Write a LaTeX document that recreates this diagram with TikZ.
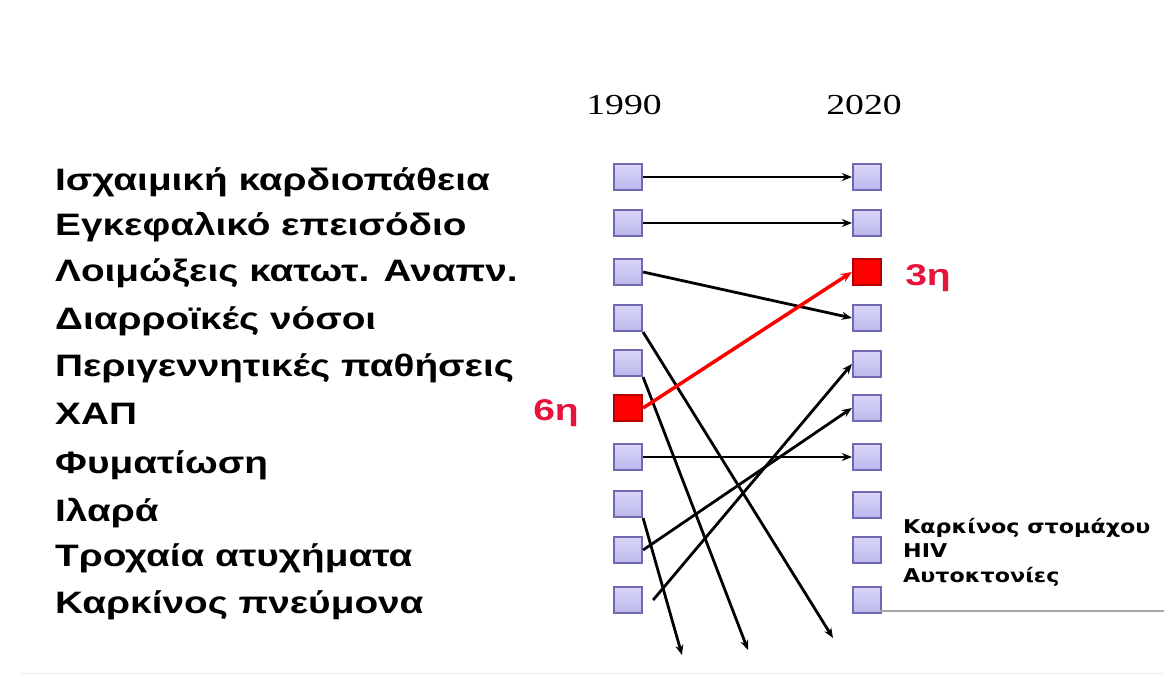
\documentclass[tikz,border=0pt]{standalone}
\usepackage{graphicx}
\usepackage{fontspec}
\setmainfont{Liberation Serif}
\newfontfamily\lblfont{Liberation Sans}
\newfontfamily\smfont{DejaVu Sans}
\usetikzlibrary{arrows.meta}
\definecolor{boxtop}{RGB}{218,214,248}
\definecolor{boxbot}{RGB}{186,184,236}
\definecolor{boxline}{RGB}{112,104,176}
\definecolor{redlbl}{RGB}{230,20,60}
\newcommand{\wx}[2]{\scalebox{#1}[1]{#2}}
\tikzset{
  cbox/.style={draw=boxline, line width=2.2pt, top color=boxtop, bottom color=boxbot, minimum width=28pt, minimum height=26pt, inner sep=0pt},
  rbox/.style={draw={rgb,255:red,180;green,0;blue,0}, line width=2.2pt, fill=red, minimum width=28pt, minimum height=26pt, inner sep=0pt},
  lbl/.style={anchor=base west, inner sep=0pt, font=\lblfont\bfseries\fontsize{31}{34}\selectfont},
  sml/.style={anchor=base west, inner sep=0pt, font=\smfont\bfseries\fontsize{19}{22}\selectfont},
  yr/.style={inner sep=0pt, font=\fontsize{29}{32}\selectfont},
  redl/.style={inner sep=0pt, text=redlbl, font=\lblfont\bfseries\fontsize{30}{32}\selectfont},
  conn/.style={line width=2.8pt, -{Stealth[length=10pt,width=8pt]}},
}
\begin{document}
\begin{tikzpicture}[x=1pt,y=-1pt]
\useasboundingbox (0,0) rectangle (1164,679);
\fill[white] (0,0) rectangle (1164,679);
% years
\node[yr] (y1) at (624,105) {\wx{1.3}{1990}};
\node[yr] (y2) at (864,105) {\wx{1.3}{2020}};
% left labels
\node[lbl] (t1) at (55,191) {\wx{1.25}{Ισχαιμική καρδιοπάθεια}};
\node[lbl] (t2) at (55,236) {\wx{1.25}{Εγκεφαλικό επεισόδιο}};
\node[lbl] (t3) at (55,281) {\wx{1.25}{Λοιμώξεις κατωτ. Αναπν.}};
\node[lbl] (t4) at (55,329) {\wx{1.25}{Διαρροϊκές νόσοι}};
\node[lbl] (t5) at (55,376) {\wx{1.25}{Περιγεννητικές παθήσεις}};
\node[lbl] (t6) at (55,424) {\wx{1.25}{ΧΑΠ}};
\node[lbl] (t7) at (55,473) {\wx{1.25}{Φυματίωση}};
\node[lbl] (t8) at (55,521) {\wx{1.25}{Ιλαρά}};
\node[lbl] (t9) at (55,566) {\wx{1.25}{Τροχαία ατυχήματα}};
\node[lbl] (t10) at (55,613) {\wx{1.25}{Καρκίνος πνεύμονα}};
% left boxes
\node[cbox] (L1) at (628,177) {};
\node[cbox] (L2) at (628,223) {};
\node[cbox] (L3) at (628,272) {};
\node[cbox] (L4) at (628,318) {};
\node[cbox] (L5) at (628,363) {};
\node[rbox] (L6) at (628,408) {};
\node[cbox] (L7) at (628,457) {};
\node[cbox] (L8) at (628,504) {};
\node[cbox] (L9) at (628,550) {};
\node[cbox] (L10) at (628,600) {};
% right boxes
\node[cbox] (R1) at (867,177) {};
\node[cbox] (R2) at (867,223) {};
\node[rbox] (R3) at (867,272) {};
\node[cbox] (R4) at (867,318) {};
\node[cbox] (R5) at (867,364) {};
\node[cbox] (R6) at (867,408) {};
\node[cbox] (R7) at (867,457) {};
\node[cbox] (R8) at (867,505) {};
\node[cbox] (R9) at (867,550) {};
\node[cbox] (R10) at (867,600) {};
% red labels
\node[redl] (l6) at (556,413) {\wx{1.3}{6η}};
\node[redl] (l3) at (928,278) {\wx{1.3}{3η}};
% right small labels
\node[sml] (s1) at (903,533) {\wx{1.17}{Καρκίνος στομάχου}};
\node[sml] (s2) at (903,557) {\wx{1.17}{HIV}};
\node[sml] (s3) at (903,582) {\wx{1.17}{Αυτοκτονίες}};
\coordinate (u1) at (880,611);
\coordinate (u2) at (1164,611);
\draw[gray!70, line width=1.2pt] (u1) -- (u2);
\coordinate (b1) at (20,673);
\coordinate (b2) at (1164,673);
\draw[gray!15, line width=1pt] (b1) -- (b2);
% bottom arrow ends
\coordinate (e4) at (833,638);
\coordinate (e5) at (748,650);
\coordinate (e8) at (682,655);
% connectors
\draw[conn] (L1.east) -- (R1.west);
\draw[conn] (L2.east) -- (R2.west);
\draw[conn] (L3.east) -- (R4.west);
\draw[conn] (L4.south east) -- (e4);
\draw[conn] (L5.south east) -- (e5);
\draw[conn, draw=red, line width=3.5pt, -{Stealth[length=11pt,width=9pt]}] (L6.east) -- (R3.west);
\draw[conn] (L7.east) -- (R7.west);
\draw[conn] (L8.south east) -- (e8);
\draw[conn] (L9.east) -- (R6.west);
\draw[conn] ([xshift=10pt]L10.east) -- (R5.west);
\end{tikzpicture}
\end{document}
